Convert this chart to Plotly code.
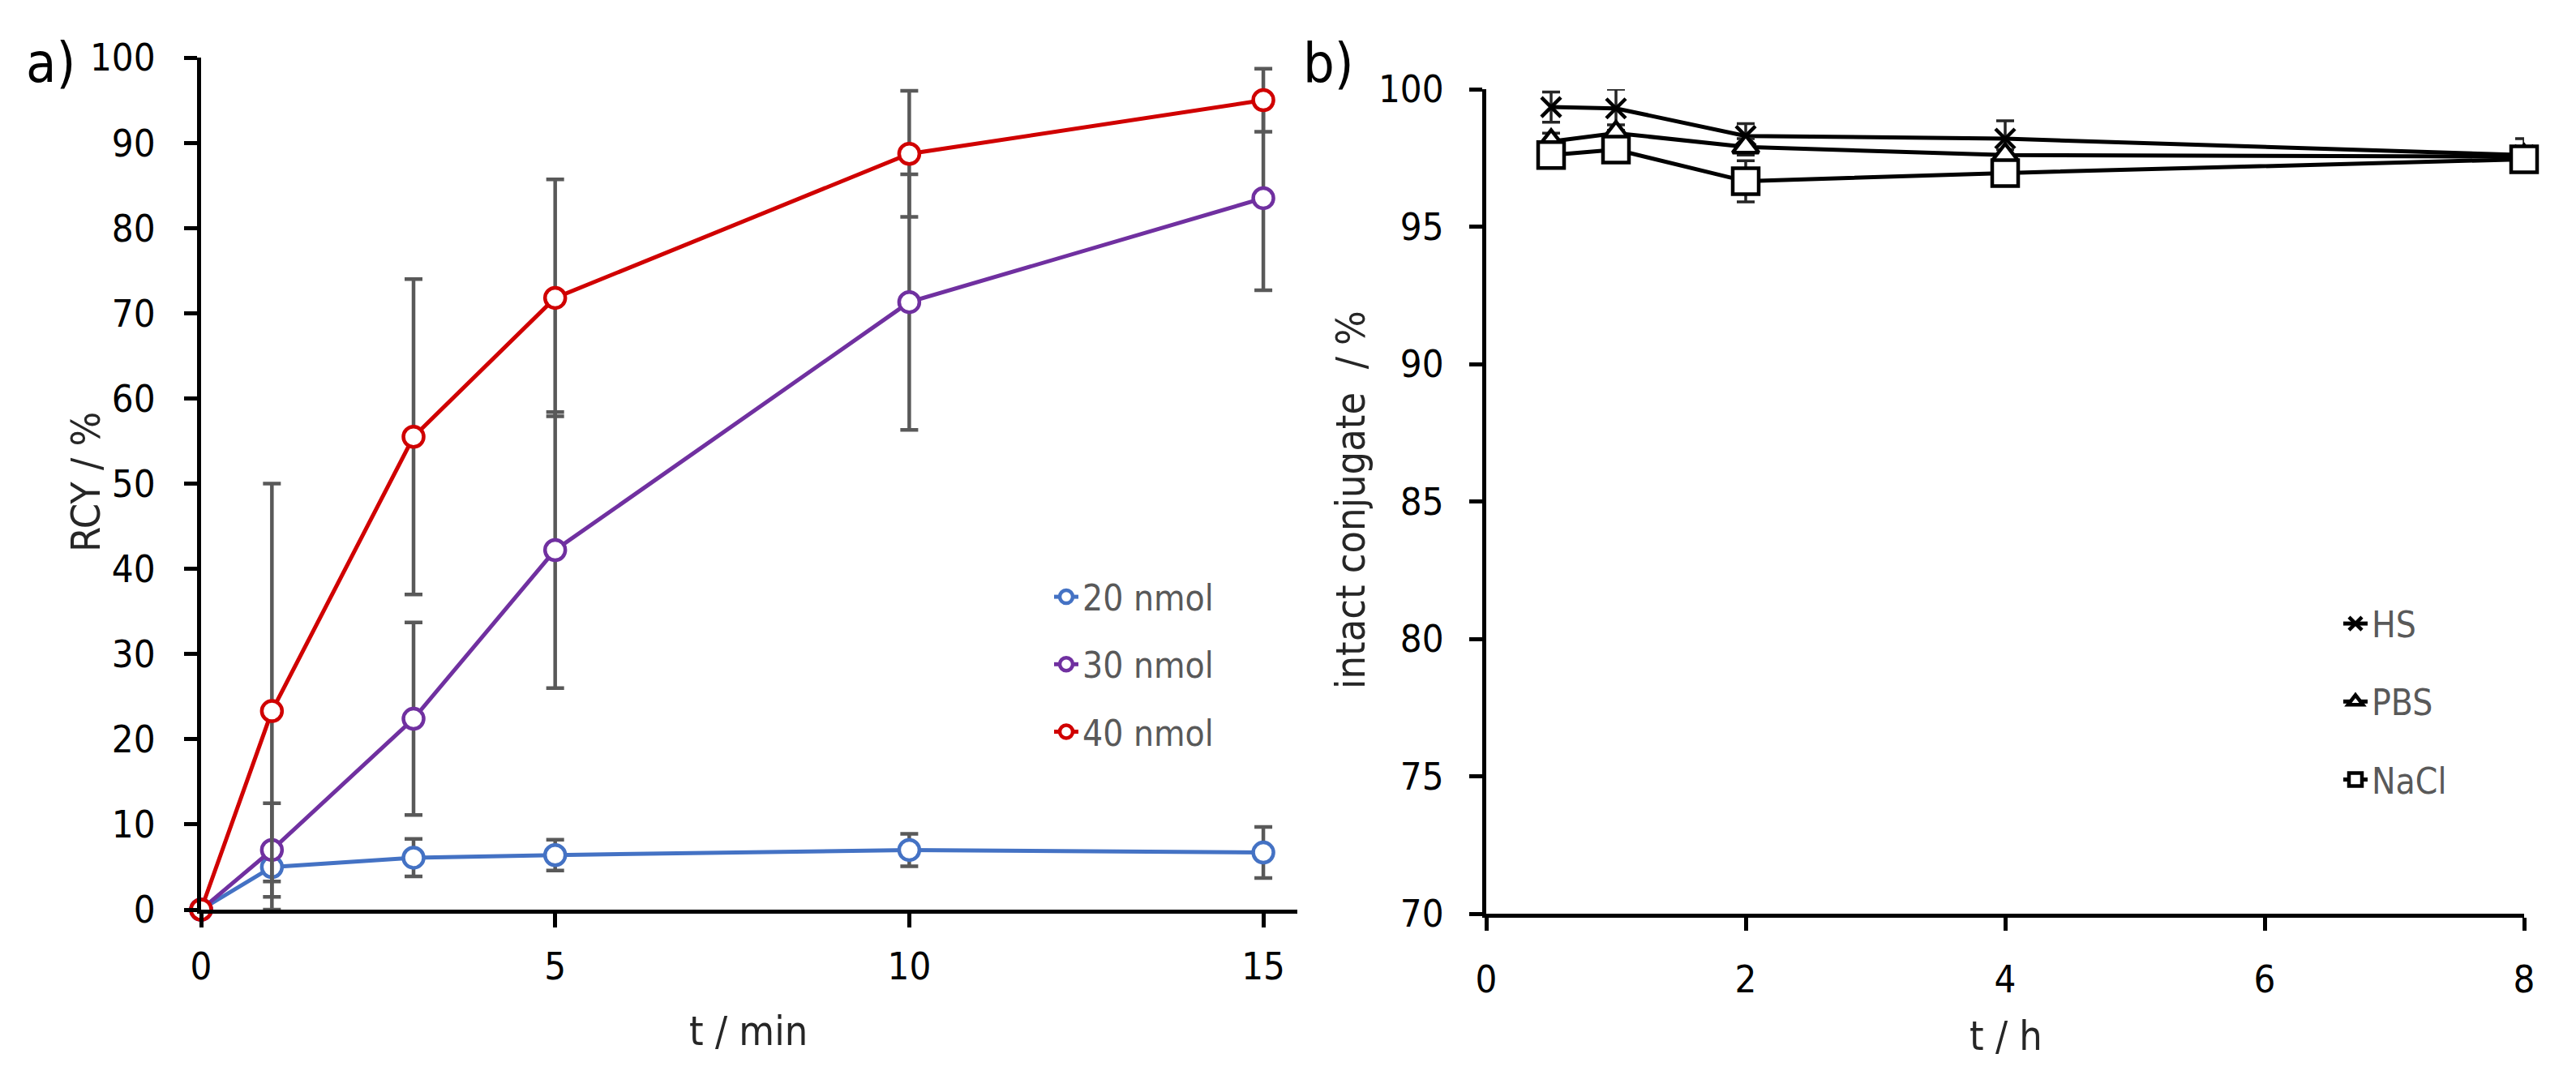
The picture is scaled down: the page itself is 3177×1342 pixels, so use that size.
import plotly.graph_objects as go

# panel a) - radiochemical yield vs time
t_min = [0, 1, 3, 5, 10, 15]
rcy_20 = [0, 5.0, 6.1, 6.4, 7.0, 6.7]
rcy_20_err = [0, 1.7, 2.2, 1.8, 1.9, 3.0]
rcy_30 = [0, 7.0, 22.4, 42.2, 71.3, 83.5]
rcy_30_err = [0, 5.5, 11.3, 16.2, 15.0, 10.8]
rcy_40 = [0, 23.3, 55.5, 71.8, 88.7, 95.0]
rcy_40_err = [0, 26.7, 18.5, 13.9, 7.4, 3.7]

# panel b) - stability of the conjugate
t_h = [0.5, 1, 2, 4, 8]
hs = [99.35, 99.3, 98.3, 98.2, 97.6]
hs_err = [0.55, 0.8, 0.45, 0.65, 0.6]
pbs = [98.1, 98.4, 97.9, 97.6, 97.55]
pbs_err = [0.3, 0.3, 0.3, 0.2, 0.2]
nacl = [97.6, 97.8, 96.65, 96.95, 97.45]
nacl_err = [0.3, 0.3, 0.75, 0.2, 0.2]

# page body has an 8px margin, so the figure is a bit smaller than the window
W, H, OFF = 3161, 1326, 8
FONT = "DejaVu Sans Condensed, Liberation Sans Narrow, sans-serif"


def fx(px):
    return (px - OFF) / W


def fy(px):
    return 1 - (px - OFF) / H


def clip_err(vals, errs, lo, hi):
    plus = [min(e, hi - v) for v, e in zip(vals, errs)]
    minus = [min(e, v - lo) for v, e in zip(vals, errs)]
    return plus, minus


fig = go.Figure()

for name, ys, errs, color in [
    ("20 nmol", rcy_20, rcy_20_err, "#4472C4"),
    ("30 nmol", rcy_30, rcy_30_err, "#7030A0"),
    ("40 nmol", rcy_40, rcy_40_err, "#D00000"),
]:
    plus, minus = clip_err(ys, errs, 0, 100)
    fig.add_trace(go.Scatter(
        x=t_min, y=ys, name=name, mode="lines+markers", legend="legend", legendgroup=name,
        line=dict(color=color, width=5),
        marker=dict(symbol="circle", size=25, color="white", line=dict(color=color, width=4.5)),
        error_y=dict(type="data", array=plus, arrayminus=minus, symmetric=False,
                     color="#595959", thickness=4.5, width=11),
        cliponaxis=False, xaxis="x", yaxis="y",
    ))

for name, ys, errs, sym, size in [
    ("HS", hs, hs_err, "x-thin", 24),
    ("PBS", pbs, pbs_err, "triangle-up", 28),
    ("NaCl", nacl, nacl_err, "square", 32),
]:
    plus, minus = clip_err(ys, errs, 70, 100)
    fig.add_trace(go.Scatter(
        x=t_h, y=ys, name=name, mode="lines+markers", legend="legend2", legendgroup=name,
        line=dict(color="black", width=5),
        marker=dict(symbol=sym, size=size, color="white", line=dict(color="black", width=4.5)),
        error_y=dict(type="data", array=plus, arrayminus=minus, symmetric=False,
                     color="#262626", thickness=3.5, width=11),
        cliponaxis=False, xaxis="x2", yaxis="y2",
    ))

axis_common = dict(
    showline=True, linecolor="black", linewidth=5, showgrid=False, zeroline=False,
    ticks="outside", tickcolor="black", tickwidth=5, automargin=False,
    tickfont=dict(family=FONT, size=47, color="black"),
)


def note(text, x, y, size=50, angle=0, color="#262626"):
    return dict(text=text, x=fx(x), y=fy(y), xref="paper", yref="paper", showarrow=False,
                textangle=angle, xanchor="center", yanchor="middle",
                font=dict(family=FONT, size=size, color=color))


fig.update_layout(
    width=W, height=H,
    margin=dict(l=0, r=0, t=0, b=0, autoexpand=False),
    paper_bgcolor="white", plot_bgcolor="white",
    font=dict(family=FONT, color="black"),
    xaxis=dict(axis_common, domain=[fx(248), fx(1600)], range=[0, 15.48], dtick=5, ticklen=17,
               ticklabelstandoff=8, anchor="y"),
    yaxis=dict(axis_common, domain=[fy(1122), fy(71)], range=[0, 100], dtick=10, ticklen=16,
               ticklabelstandoff=26, anchor="x"),
    xaxis2=dict(axis_common, domain=[fx(1833), fx(3113)], range=[0, 8], dtick=2, ticklen=16,
                ticklabelstandoff=20, anchor="y2"),
    yaxis2=dict(axis_common, domain=[fy(1127), fy(110)], range=[70, 100], dtick=5, ticklen=16,
                ticklabelstandoff=22, anchor="x2"),
    legend=dict(x=fx(1335 - 40), y=fy(701), xanchor="left", yanchor="top",
                font=dict(family=FONT, size=44, color="#595959"), tracegroupgap=23,
                bgcolor="rgba(0,0,0,0)"),
    legend2=dict(x=fx(2925 - 40), y=fy(734), xanchor="left", yanchor="top",
                 font=dict(family=FONT, size=44, color="#595959"), tracegroupgap=36,
                 bgcolor="rgba(0,0,0,0)"),
    annotations=[
        note("RCY / %", 106, 595, angle=-90),
        note("t / min", 923, 1272),
        note("intact conjugate\u00a0 / %", 1666, 617, angle=-90),
        note("t / h", 2474, 1278),
        note("a)", 62, 77, size=68, color="black"),
        note("b)", 1638, 78, size=68, color="black"),
    ],
)

fig.write_html("out.html")
